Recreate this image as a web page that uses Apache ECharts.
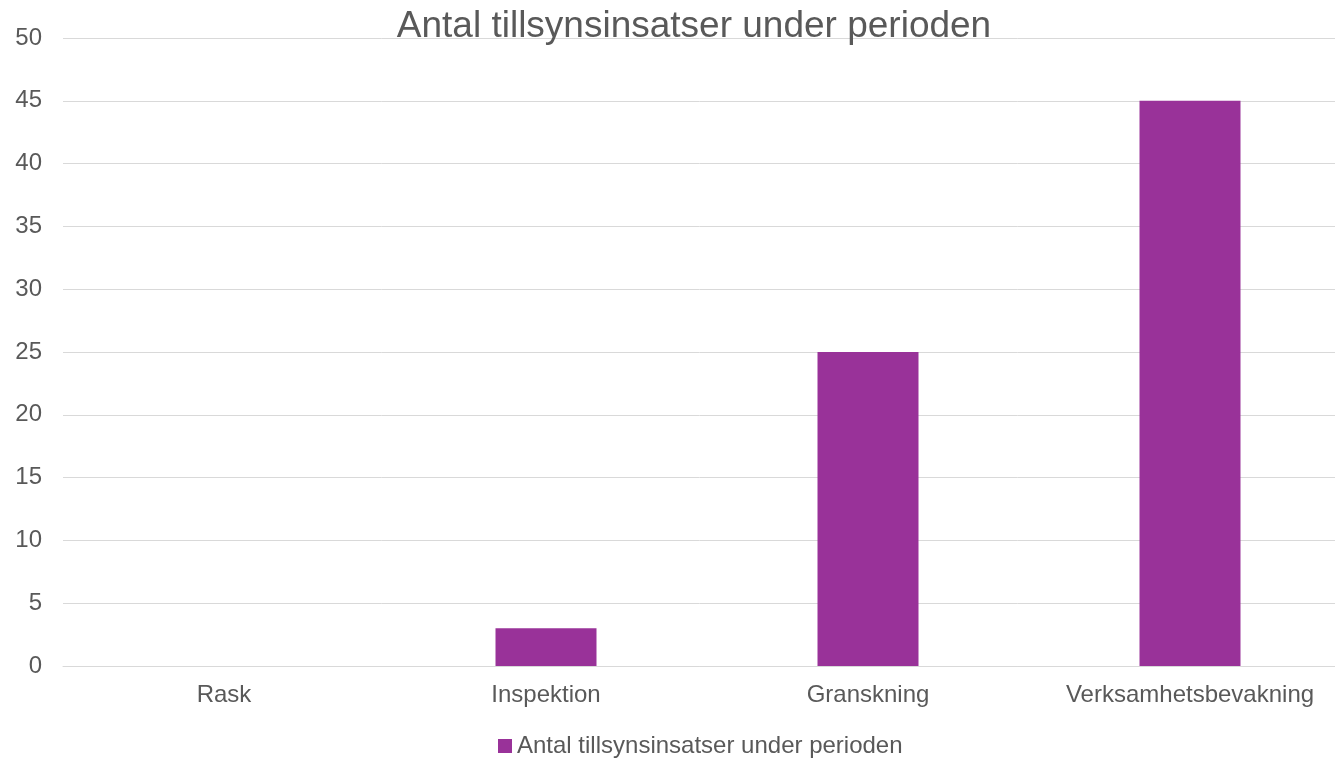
<!DOCTYPE html>
<html>
<head>
<meta charset="utf-8">
<script src="https://cdn.jsdelivr.net/npm/echarts@6/dist/echarts.min.js"></script>
<style>
  html, body { margin: 0; padding: 0; background: #fff; }
  #chart { width: 1335px; height: 759px; }
</style>
</head>
<body>
<div id="chart"></div>
<script>
// Categories and counts
const categories = ['Rask', 'Inspektion', 'Granskning', 'Verksamhetsbevakning'];
const counts = [0, 3, 25, 45];
const seriesName = 'Antal tillsynsinsatser under perioden';
const chartTitle = 'Antal tillsynsinsatser under perioden';

const textColor = '#595959';
const font = '"Liberation Sans", Arial, sans-serif';

const chart = echarts.init(document.getElementById('chart'), null, { renderer: 'canvas' });
chart.setOption({
  animation: false,
  backgroundColor: '#ffffff',
  title: {
    text: chartTitle,
    left: 689,
    textAlign: 'center',
    top: 3,
    textStyle: { color: textColor, fontFamily: font, fontSize: 37, fontWeight: 'normal' }
  },
  legend: {
    data: [seriesName],
    top: 729,
    left: 493,
    itemWidth: 14,
    itemHeight: 14,
    itemGap: 4,
    icon: 'rect',
    textStyle: { color: textColor, fontFamily: font, fontSize: 24 }
  },
  // plot band runs slightly past the right edge of the canvas
  grid: { left: 63, width: 1288, top: 38, height: 628, containLabel: false, outerBoundsMode: 'none' },
  xAxis: {
    type: 'category',
    data: categories,
    axisLine: { show: true, lineStyle: { color: '#d9d9d9', width: 1 } },
    axisTick: { show: false },
    axisLabel: { color: textColor, fontFamily: font, fontSize: 24, margin: 17, interval: 0 }
  },
  yAxis: {
    type: 'value',
    min: 0,
    max: 50,
    interval: 5,
    axisLine: { show: false },
    axisTick: { show: false },
    axisLabel: { color: textColor, fontFamily: font, fontSize: 24, margin: 21 },
    splitLine: { lineStyle: { color: '#d9d9d9', width: 1 } }
  },
  series: [{
    name: seriesName,
    type: 'bar',
    data: counts,
    barWidth: 101,
    itemStyle: { color: '#993299' }
  }]
});
</script>
</body>
</html>
